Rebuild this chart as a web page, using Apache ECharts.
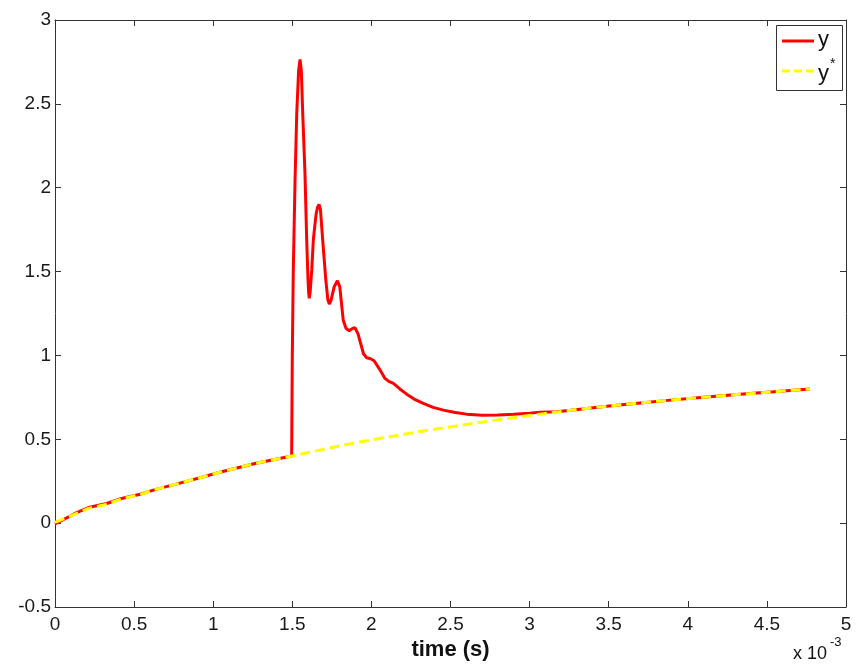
<!DOCTYPE html>
<html>
<head>
<meta charset="utf-8">
<script src="https://cdn.jsdelivr.net/npm/echarts@6/dist/echarts.min.js"></script>
<style>html,body{margin:0;padding:0;background:#fff;}#c{width:863px;height:669px;}</style>
</head>
<body>
<div id="c"></div>
<script>
// time in units of 1e-3 s
var yStarT = [0, 0.137, 0.211, 0.327, 0.421, 0.537, 0.632, 0.843, 1.054, 1.264, 1.496, 1.686, 1.896, 2.107, 2.318, 2.528, 2.855, 3.066, 3.276, 3.487, 3.698, 3.908, 4.119, 4.330, 4.541, 4.772];
var yStarV = [0.005, 0.058, 0.088, 0.113, 0.145, 0.171, 0.200, 0.252, 0.306, 0.356, 0.400, 0.438, 0.479, 0.514, 0.548, 0.578, 0.624, 0.650, 0.675, 0.697, 0.717, 0.735, 0.752, 0.768, 0.783, 0.800];

var yT = [0, 0.137, 0.211, 0.327, 0.421, 0.537, 0.632, 0.843, 1.054, 1.264, 1.496,
  1.500, 1.506, 1.517, 1.528, 1.540, 1.549, 1.557, 1.566, 1.580, 1.591, 1.599, 1.603, 1.607, 1.613,
  1.623, 1.633, 1.650, 1.660, 1.669, 1.678, 1.692, 1.711, 1.725, 1.734, 1.745, 1.765, 1.785, 1.800,
  1.822, 1.840, 1.860, 1.878, 1.896, 1.915, 1.950, 1.970, 1.995, 2.017, 2.050, 2.086, 2.110, 2.139,
  2.180, 2.223, 2.270, 2.328, 2.390, 2.455, 2.530, 2.602, 2.700, 2.800, 2.900, 3.000, 3.066, 3.170,
  3.276, 3.487, 3.698, 3.908, 4.119, 4.330, 4.541, 4.772];
var yV = [-0.005, 0.063, 0.093, 0.117, 0.147, 0.172, 0.200, 0.252, 0.306, 0.356, 0.400,
  1.00, 1.49, 2.03, 2.44, 2.70, 2.765, 2.70, 2.44, 2.09, 1.69, 1.46, 1.38, 1.34, 1.38,
  1.51, 1.69, 1.84, 1.885, 1.90, 1.87, 1.69, 1.46, 1.33, 1.306, 1.33, 1.41, 1.445, 1.41,
  1.21, 1.16, 1.147, 1.16, 1.165, 1.13, 1.01, 0.986, 0.98, 0.968, 0.92, 0.863, 0.845, 0.833,
  0.80, 0.769, 0.74, 0.714, 0.69, 0.674, 0.66, 0.650, 0.644, 0.645, 0.649, 0.656, 0.661, 0.664,
  0.675, 0.697, 0.717, 0.735, 0.752, 0.768, 0.783, 0.800];

var xTicks = [0, 0.5, 1, 1.5, 2, 2.5, 3, 3.5, 4, 4.5, 5];
var yTicks = [-0.5, 0, 0.5, 1, 1.5, 2, 2.5, 3];

function pairs(t, v) { return t.map(function (x, i) { return [x, v[i]]; }); }

var FONT = "'Liberation Sans', Arial, sans-serif";
var AX = '#333';
var chart = echarts.init(document.getElementById('c'), null, { renderer: 'canvas' });
var tickStyle = { show: true, inside: true, length: 6, lineStyle: { color: AX, width: 1 } };
var lbl = { color: '#1a1a1a', fontFamily: FONT, fontSize: 19 };
chart.setOption({
  animation: false,
  backgroundColor: '#fff',
  grid: { left: 55, right: 17, top: 20, bottom: 62, containLabel: false },
  xAxis: [{
    type: 'value', min: xTicks[0], max: xTicks[xTicks.length - 1], interval: 0.5,
    axisLine: { show: true, onZero: false, lineStyle: { color: AX, width: 1 } },
    axisTick: tickStyle, splitLine: { show: false },
    axisLabel: Object.assign({ margin: 8, formatter: function (v) { return String(+v.toFixed(2)); } }, lbl),
    name: 'time (s)', nameLocation: 'middle', nameGap: 28,
    nameTextStyle: { color: '#111', fontFamily: FONT, fontSize: 22, fontWeight: 'bold' }
  }, {
    type: 'value', position: 'top', min: 0, max: 5, interval: 0.5,
    axisLine: { show: true, onZero: false, lineStyle: { color: AX, width: 1 } },
    axisTick: tickStyle, axisLabel: { show: false }, splitLine: { show: false }
  }],
  yAxis: [{
    type: 'value', min: yTicks[0], max: yTicks[yTicks.length - 1], interval: 0.5,
    axisLine: { show: true, onZero: false, lineStyle: { color: AX, width: 1 } },
    axisTick: tickStyle, splitLine: { show: false },
    axisLabel: Object.assign({ margin: 4, formatter: function (v) { return String(+v.toFixed(2)); } }, lbl)
  }, {
    type: 'value', position: 'right', min: -0.5, max: 3, interval: 0.5,
    axisLine: { show: true, onZero: false, lineStyle: { color: AX, width: 1 } },
    axisTick: tickStyle, axisLabel: { show: false }, splitLine: { show: false }
  }],
  series: [{
    name: 'y', type: 'line', showSymbol: false, symbol: 'none',
    data: pairs(yT, yV),
    lineStyle: { color: '#ff0000', width: 3 }, z: 2
  }, {
    name: 'y*', type: 'line', showSymbol: false, symbol: 'none',
    data: pairs(yStarT, yStarV),
    lineStyle: { color: '#ffff00', width: 3, type: [10, 5] }, z: 3
  }],
  graphic: [
    { type: 'rect', left: 776, top: 25, shape: { width: 66, height: 65 }, style: { fill: '#fff', stroke: AX, lineWidth: 1 }, z: 10 },
    { type: 'line', shape: { x1: 782, y1: 41, x2: 814, y2: 41 }, style: { stroke: '#ff0000', lineWidth: 3 }, z: 11 },
    { type: 'line', shape: { x1: 782, y1: 71, x2: 814, y2: 71 }, style: { stroke: '#ffff00', lineWidth: 3, lineDash: [8, 4] }, z: 11 },
    { type: 'text', left: 818, top: 29, style: { text: 'y', fontFamily: FONT, fontSize: 22, fill: '#111' }, z: 11 },
    { type: 'text', left: 818, top: 63, style: { text: 'y', fontFamily: FONT, fontSize: 22, fill: '#111' }, z: 11 },
    { type: 'text', left: 830, top: 57, style: { text: '*', fontFamily: FONT, fontSize: 14, fill: '#111' }, z: 11 },
    { type: 'text', left: 793, top: 645, style: { text: 'x 10', fontFamily: FONT, fontSize: 18, fill: '#111' }, z: 11 },
    { type: 'text', left: 830, top: 636, style: { text: '-3', fontFamily: FONT, fontSize: 13, fill: '#111' }, z: 11 }
  ]
});
</script>
</body>
</html>
